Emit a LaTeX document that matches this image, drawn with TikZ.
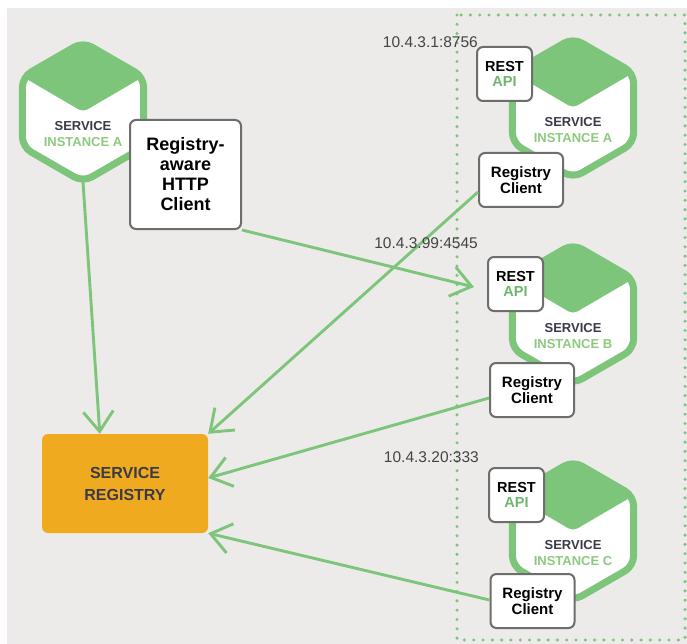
\documentclass[tikz,border=0pt]{standalone}
\usepackage{fontspec}
\setmainfont{Liberation Sans}
\usetikzlibrary{arrows.meta,calc}

\definecolor{bg}{HTML}{ECEBE9}
\definecolor{hexgreen}{HTML}{7DC57A}
\definecolor{txtgreen}{HTML}{8DCA7F}
\definecolor{apigreen}{HTML}{6DB66B}
\definecolor{darktxt}{HTML}{3A3A48}
\definecolor{regorange}{HTML}{F0AA1F}
\definecolor{boxgray}{HTML}{6D6D6D}
\definecolor{iptxt}{HTML}{444444}

% outline of a pointy-topped hexagon around coordinate #1
\newcommand\hexoutline[1]{($(#1)+(0,-70)$) -- ($(#1)+(60.6,-35)$) -- ($(#1)+(60.6,35)$) -- ($(#1)+(0,70)$) -- ($(#1)+(-60.6,35)$) -- ($(#1)+(-60.6,-35)$) -- cycle}

% service hexagon: #1 name, #2 x, #3 y, #4 instance letter
\newcommand\svchex[4]{%
  \coordinate (#1) at (#2,#3);
  \coordinate (#1-s) at ($(#1)+(0,70)$);
  \fill[white, rounded corners=10pt] \hexoutline{#1};
  \begin{scope}
    \clip[rounded corners=10pt] \hexoutline{#1};
    \fill[hexgreen, rounded corners=5pt] ($(#1)+(0,-80)$) -- ($(#1)+(65,-38)$) -- (#1) -- ($(#1)+(-65,-38)$) -- cycle;
  \end{scope}
  \draw[hexgreen, line width=7pt, rounded corners=10pt] \hexoutline{#1};
  \node[hextext] (#1-txt) at ($(#1)+(0,22)$) {\textcolor{darktxt}{SERVICE}\\\textcolor{txtgreen}{INSTANCE #4}};
}

\begin{document}
\begin{tikzpicture}[x=1pt,y=-1pt,
  hextext/.style={align=center, inner sep=0pt, font=\bfseries\fontsize{13}{16}\selectfont},
  compbox/.style={draw=boxgray, line width=2pt, fill=white, rounded corners=6pt, inner sep=0pt, align=center},
  restbox/.style={compbox, minimum width=55pt, minimum height=54pt, font=\bfseries\fontsize{14.5}{15}\selectfont},
  clientbox/.style={compbox, minimum width=84pt, minimum height=54pt, font=\bfseries\fontsize{15}{16}\selectfont},
  iplabel/.style={anchor=east, inner sep=0pt, text=iptxt, font=\fontsize{15.5}{18}\selectfont},
  link/.style={draw=hexgreen, line width=2.9pt, -{Straight Barb[length=20pt,width=30pt]}},
]
% canvas
\useasboundingbox (0,0) rectangle (687,644);
\fill[white] (0,0) rectangle (687,644);
\fill[bg] (7,8) rectangle (687,644);

% host group
\draw[hexgreen, line width=3.4pt, line cap=round, dash pattern=on 0pt off 9.3pt]
  (457,15) rectangle (685,640);

% service hexagons
\svchex{hexL}{83}{112}{A}
\svchex{hexA}{573}{108}{A}
\svchex{hexB}{573}{314}{B}
\svchex{hexC}{573}{531}{C}

% boxes
\node[compbox, minimum width=111pt, minimum height=109pt,
      font=\bfseries\fontsize{18}{20}\selectfont] (http) at (185.5,174.5)
      {Registry-\\aware\\HTTP\\Client};
\node[draw=none, fill=regorange, rounded corners=6pt, minimum width=166pt, minimum height=99pt,
      align=center, text=darktxt, font=\bfseries\fontsize{16}{22}\selectfont] (reg) at (125,483.5)
      {SERVICE\\REGISTRY};

\node[restbox] (restA) at (504.5,74) {REST\\\textcolor{apigreen}{API}};
\node[restbox] (restB) at (515.5,284) {REST\\\textcolor{apigreen}{API}};
\node[restbox] (restC) at (516.5,495) {REST\\\textcolor{apigreen}{API}};

\node[clientbox] (clientA) at (521,180) {Registry\\Client};
\node[clientbox] (clientB) at (532,390) {Registry\\Client};
\node[clientbox] (clientC) at (532.5,601) {Registry\\Client};

% connectors
\draw[link] (hexL-s) -- ([xshift=58pt]reg.north west);
\draw[link] (http.south east) -- ([xshift=-13pt,yshift=-3pt]restB.west);
\draw[link] ([yshift=-12pt]clientA.west) -- (reg.north east);
\draw[link] ([yshift=-8pt]clientB.west) -- ([yshift=5.5pt]reg.east);
\draw[link] ([yshift=1pt]clientC.west) -- (reg.south east);

% addresses
\node[iplabel] (ipA) at (478,42) {10.4.3.1:8756};
\node[iplabel] (ipB) at (478,243) {10.4.3.99:4545};
\node[iplabel] (ipC) at (479,457) {10.4.3.20:333};
\end{tikzpicture}
\end{document}
